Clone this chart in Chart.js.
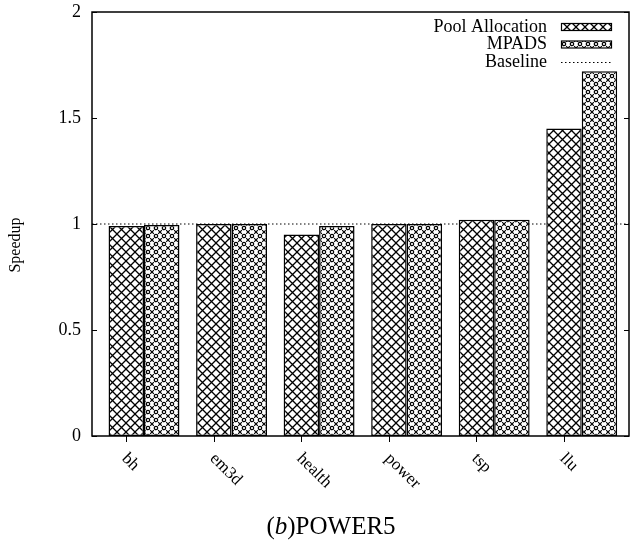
<!DOCTYPE html>
<html>
<head>
<meta charset="utf-8">
<script src="https://cdn.jsdelivr.net/npm/chart.js@4/dist/chart.umd.min.js"></script>
<style>
  body { margin: 0; background: #fff; overflow: hidden; }
  #wrap { position: relative; width: 630px; height: 542px; }
  #caption {
    position: absolute; left: 16px; top: 511px; width: 630px;
    text-align: center; font: 25px "Liberation Serif", serif; line-height: 30px; color: #000;
  }
</style>
</head>
<body>
<div id="wrap">
  <canvas id="speedupChart" width="630" height="542"></canvas>
  <div id="caption">(<i>b</i>)POWER5</div>
</div>
<script>
// data
const categories = ["bh", "em3d", "health", "power", "tsp", "llu"]
const poolAllocation = [0.99, 1.0, 0.95, 1.0, 1.02, 1.45]
const mpads = [0.995, 1.0, 0.99, 1.0, 1.02, 1.72]
const baseline = 1
const yTicks = [0, 0.5, 1, 1.5, 2]

// x range in category units (gnuplot style, bars centred on integers)
const xMin = -0.594
const xMax = 5.54

const FONT = '"Liberation Serif", serif'

// hatch patterns
const makePoolPattern = () => {
    const c = document.createElement("canvas")
    c.width = 9
    c.height = 9
    const g = c.getContext("2d")
    g.fillStyle = "#fff"
    g.fillRect(0, 0, 9, 9)
    g.strokeStyle = "#000"
    g.lineWidth = 1.3
    g.beginPath()
    g.moveTo(0, 0); g.lineTo(9, 9)
    g.moveTo(0, 9); g.lineTo(9, 0)
    g.stroke()
    return g.createPattern(c, "repeat")
}

const makeMpadsPattern = () => {
    const c = document.createElement("canvas")
    c.width = 8
    c.height = 8
    const g = c.getContext("2d")
    g.fillStyle = "#fff"
    g.fillRect(0, 0, 8, 8)
    g.strokeStyle = "#000"
    g.fillStyle = "#000"
    g.lineWidth = 1.2
    // small open circle in the middle
    g.beginPath()
    g.arc(4, 4, 1.7, 0, Math.PI * 2)
    g.stroke()
    // little crosses at the corners
    g.beginPath()
    g.moveTo(-1.8, -1.8); g.lineTo(1.8, 1.8)
    g.moveTo(6.2, -1.8); g.lineTo(9.8, 1.8)
    g.moveTo(-1.8, 6.2); g.lineTo(1.8, 9.8)
    g.moveTo(6.2, 6.2); g.lineTo(9.8, 9.8)
    g.moveTo(1.8, -1.8); g.lineTo(-1.8, 1.8)
    g.moveTo(9.8, -1.8); g.lineTo(6.2, 1.8)
    g.moveTo(1.8, 6.2); g.lineTo(-1.8, 9.8)
    g.moveTo(9.8, 6.2); g.lineTo(6.2, 9.8)
    g.stroke()
    return g.createPattern(c, "repeat")
}

const poolPattern = makePoolPattern()
const mpadsPattern = makeMpadsPattern()

// frame, ticks, labels and legend in gnuplot style
const gnuplotDecor = {
    id: "gnuplotDecor",
    afterDraw(chart) {
        const ctx = chart.ctx
        const area = chart.chartArea
        const yScale = chart.scales.y
        ctx.save()
        ctx.strokeStyle = "#000"
        ctx.fillStyle = "#000"

        // frame
        ctx.lineWidth = 1.5
        ctx.strokeRect(area.left, area.top, area.right - area.left, area.bottom - area.top)

        // y ticks (inside, mirrored) and labels
        ctx.lineWidth = 1
        ctx.font = "18px " + FONT
        ctx.textAlign = "right"
        ctx.textBaseline = "middle"
        yTicks.forEach((v) => {
            const y = Math.round(yScale.getPixelForValue(v)) + 0.5
            ctx.beginPath()
            ctx.moveTo(area.left, y); ctx.lineTo(area.left + 5, y)
            ctx.moveTo(area.right, y); ctx.lineTo(area.right - 5, y)
            ctx.stroke()
            ctx.fillText(String(v), 81, y)
        })

        // x ticks below the first bar of each group, rotated labels
        const meta = chart.getDatasetMeta(0)
        ctx.font = "17px " + FONT
        ctx.textAlign = "left"
        ctx.textBaseline = "middle"
        categories.forEach((name, i) => {
            const x = Math.round(meta.data[i].x) + 0.5
            ctx.beginPath()
            ctx.moveTo(x, area.bottom); ctx.lineTo(x, area.bottom + 6)
            ctx.stroke()
            ctx.save()
            ctx.translate(x - 2, area.bottom + 20)
            ctx.rotate(Math.PI / 4)
            ctx.fillText(name, 0, 0)
            ctx.restore()
        })

        // y title
        ctx.save()
        ctx.font = "16px " + FONT
        ctx.textAlign = "center"
        ctx.translate(16, 245)
        ctx.rotate(-Math.PI / 2)
        ctx.fillText("Speedup", 0, 0)
        ctx.restore()

        // legend
        ctx.font = "18px " + FONT
        ctx.textAlign = "right"
        const legendItems = [
            { label: chart.data.datasets[0].label, fill: poolPattern, y: 27 },
            { label: chart.data.datasets[1].label, fill: mpadsPattern, y: 44.5 },
            { label: chart.data.datasets[2].label, fill: null, y: 62 },
        ]
        legendItems.forEach((item) => {
            ctx.fillText(item.label, 547, item.y)
            if (item.fill) {
                ctx.fillStyle = item.fill
                ctx.fillRect(561, item.y - 3.5, 50, 7)
                ctx.fillStyle = "#000"
                ctx.lineWidth = 1.2
                ctx.strokeRect(561.5, item.y - 3.5, 50, 7)
            } else {
                ctx.lineWidth = 1
                ctx.setLineDash([1.5, 2.5])
                ctx.beginPath()
                ctx.moveTo(561, Math.round(item.y) + 0.5)
                ctx.lineTo(611, Math.round(item.y) + 0.5)
                ctx.stroke()
                ctx.setLineDash([])
            }
        })
        ctx.restore()
    },
}

const ctx = document.getElementById("speedupChart").getContext("2d")

new Chart(ctx, {
    type: "bar",
    data: {
        datasets: [
            {
                label: "Pool Allocation",
                data: poolAllocation.map((v, i) => ({ x: i, y: v })),
                backgroundColor: poolPattern,
                borderColor: "#000",
                borderWidth: 1.5,
                borderSkipped: false,
                categoryPercentage: 0.81,
                barPercentage: 1.0,
                order: 1,
            },
            {
                label: "MPADS",
                data: mpads.map((v, i) => ({ x: i, y: v })),
                backgroundColor: mpadsPattern,
                borderColor: "#000",
                borderWidth: 1.5,
                borderSkipped: false,
                categoryPercentage: 0.81,
                barPercentage: 1.0,
                order: 1,
            },
            {
                type: "line",
                label: "Baseline",
                data: [
                    { x: xMin, y: baseline },
                    { x: xMax, y: baseline },
                ],
                borderColor: "#000",
                borderWidth: 1,
                borderDash: [1.5, 2.5],
                pointRadius: 0,
                order: 3,
            },
        ],
    },
    options: {
        responsive: false,
        animation: false,
        devicePixelRatio: 1,
        layout: {
            padding: { left: 92, top: 12, right: 1, bottom: 106 },
        },
        plugins: {
            legend: { display: false },
            tooltip: { enabled: false },
        },
        scales: {
            x: {
                type: "linear",
                min: xMin,
                max: xMax,
                offset: false,
                display: false,
                grid: { display: false },
                ticks: { stepSize: 1, includeBounds: false },
            },
            y: {
                min: 0,
                max: 2,
                display: false,
                grid: { display: false },
            },
        },
    },
    plugins: [gnuplotDecor],
})
</script>
</body>
</html>
